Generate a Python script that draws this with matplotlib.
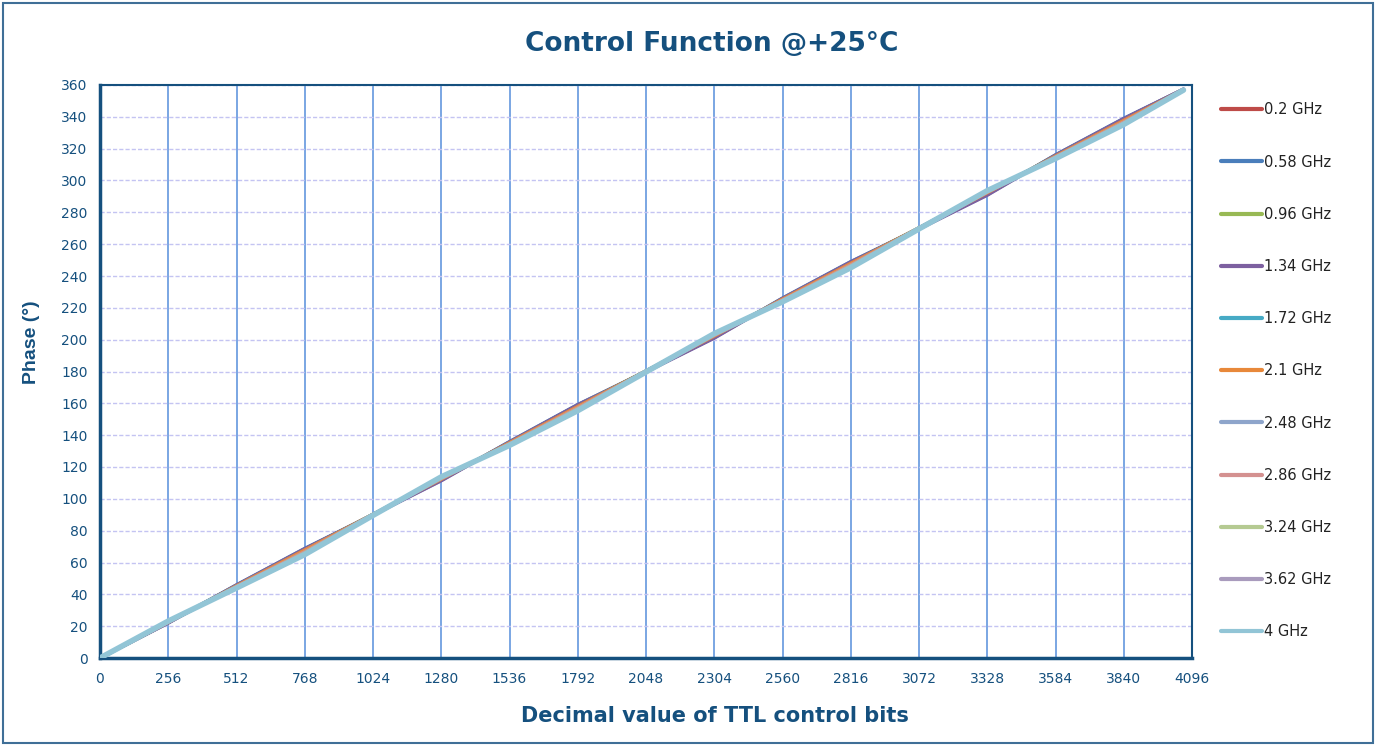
import matplotlib
matplotlib.use('Agg')
import matplotlib.pyplot as plt
from matplotlib.patches import Rectangle

# Control bit values (decimal) and measured phase per frequency
bits = [0, 256, 512, 768, 1024, 1280, 1536, 1792, 2048, 2304, 2560, 2816, 3072, 3328, 3584, 3840, 4064]

freq_labels = ['0.2 GHz', '0.58 GHz', '0.96 GHz', '1.34 GHz', '1.72 GHz', '2.1 GHz',
               '2.48 GHz', '2.86 GHz', '3.24 GHz', '3.62 GHz', '4 GHz']

phase_02 = [0, 22.3, 45.6, 68.4, 90.2, 112.0, 135.6, 158.9, 180.1, 201.6, 225.8, 248.6, 270.0, 291.5, 315.8, 338.6, 357.2]
phase_058 = [0, 22.1, 45.9, 68.8, 90.0, 111.6, 135.9, 159.2, 180.0, 201.2, 226.1, 249.0, 269.8, 291.0, 316.1, 339.0, 357.3]
phase_096 = [0, 22.4, 45.4, 68.0, 90.1, 112.2, 135.3, 158.5, 180.2, 201.8, 225.5, 248.2, 270.1, 291.8, 315.6, 338.2, 357.1]
phase_134 = [0, 22.0, 45.8, 68.6, 89.8, 111.4, 135.7, 159.0, 179.7, 201.0, 225.9, 248.8, 269.5, 290.8, 315.9, 338.8, 357.4]
phase_172 = [0, 22.6, 45.2, 67.6, 90.3, 112.6, 135.0, 157.8, 180.4, 202.6, 225.2, 247.6, 270.3, 292.6, 315.2, 337.4, 357.0]
phase_21 = [0, 22.5, 45.3, 67.8, 90.2, 112.4, 135.2, 158.0, 180.3, 202.3, 225.4, 247.9, 270.2, 292.3, 315.3, 337.7, 357.1]
phase_248 = [0, 22.8, 44.6, 66.4, 90.0, 113.0, 134.4, 156.8, 180.2, 203.0, 224.6, 246.6, 270.0, 292.9, 314.6, 336.4, 356.9]
phase_286 = [0, 22.7, 44.8, 66.8, 90.1, 112.8, 134.6, 157.2, 180.1, 202.8, 224.8, 247.0, 270.1, 292.7, 314.8, 336.8, 357.0]
phase_324 = [0, 22.9, 44.4, 66.0, 89.9, 113.2, 134.2, 156.4, 180.0, 203.2, 224.4, 246.2, 269.9, 293.1, 314.4, 336.0, 356.9]
phase_362 = [0, 23.0, 44.2, 65.6, 89.8, 113.4, 134.0, 156.0, 179.9, 203.4, 224.2, 245.8, 269.8, 293.3, 314.2, 335.6, 356.8]
phase_4 = [0, 23.2, 44.0, 65.0, 89.6, 113.8, 133.6, 155.4, 179.7, 203.8, 223.8, 245.2, 269.6, 293.6, 313.8, 335.2, 356.8]

phases = [phase_02, phase_058, phase_096, phase_134, phase_172, phase_21,
          phase_248, phase_286, phase_324, phase_362, phase_4]

colors = ['#BE4B48', '#4A7EBB', '#98B954', '#7D60A0', '#46AAC5', '#E8883A',
          '#8EA5CB', '#D49190', '#B5CA92', '#A99BBD', '#92C5D6']

x_ticks = list(range(0, 4097, 256))
y_ticks = list(range(0, 361, 20))

dark = '#15507E'
plt.rcParams['font.family'] = ['DejaVu Sans']

fig = plt.figure(figsize=(13.77, 7.45), dpi=100)
ax = fig.add_axes([100 / 1377, 1 - 658 / 745, 1092 / 1377, 573 / 745])

# outer border of the chart
fig.patches.append(Rectangle((3 / 1377, 2 / 745), 1370 / 1377, 740 / 745,
                             transform=fig.transFigure, fill=False,
                             edgecolor='#3F6F97', linewidth=1.5))

for ph, lab, c in zip(phases, freq_labels, colors):
    lw = 4 if lab == '4 GHz' else 2.5
    ax.plot(bits, ph, color=c, linewidth=lw, label=lab, solid_capstyle='round', zorder=3)

ax.set_xlim(0, 4096)
ax.set_ylim(0, 360)
ax.set_xticks(x_ticks)
ax.set_yticks(y_ticks)
ax.tick_params(length=0, labelsize=10, colors=dark)
ax.tick_params(axis='x', pad=10)
ax.tick_params(axis='y', pad=9)

ax.xaxis.grid(True, color='#6F9FE0', linewidth=1.3, linestyle='-')
ax.yaxis.grid(True, color='#C4C4F2', linewidth=1, linestyle='--', dashes=(3, 1.5))
ax.set_axisbelow(True)

for side in ['left', 'bottom']:
    ax.spines[side].set_color(dark)
    ax.spines[side].set_linewidth(2.5)
for side in ['top', 'right']:
    ax.spines[side].set_color(dark)
    ax.spines[side].set_linewidth(1.5)

fig.text(712 / 1377, 1 - 44 / 745, 'Control Function @+25°C', ha='center', va='center',
         fontsize=19, fontweight='bold', color=dark)
fig.text(715 / 1377, 1 - 716 / 745, 'Decimal value of TTL control bits', ha='center', va='center',
         fontsize=15, fontweight='bold', color=dark)
fig.text(31 / 1377, 1 - 342 / 745, 'Phase (°)', ha='center', va='center', rotation=90,
         fontsize=14, fontweight='bold', color=dark,
         family=['Liberation Sans', 'DejaVu Sans'])

leg = fig.legend(loc='upper left', bbox_to_anchor=(1217 / 1377, 1 - 98 / 745),
                 frameon=False, fontsize=10.5, handlelength=2.8, handletextpad=0.15,
                 labelspacing=2.55, borderaxespad=0, borderpad=0.3)
for line in leg.get_lines():
    line.set_linewidth(3)
for txt in leg.get_texts():
    txt.set_color('#222222')

fig.savefig('out.png', dpi=100)
